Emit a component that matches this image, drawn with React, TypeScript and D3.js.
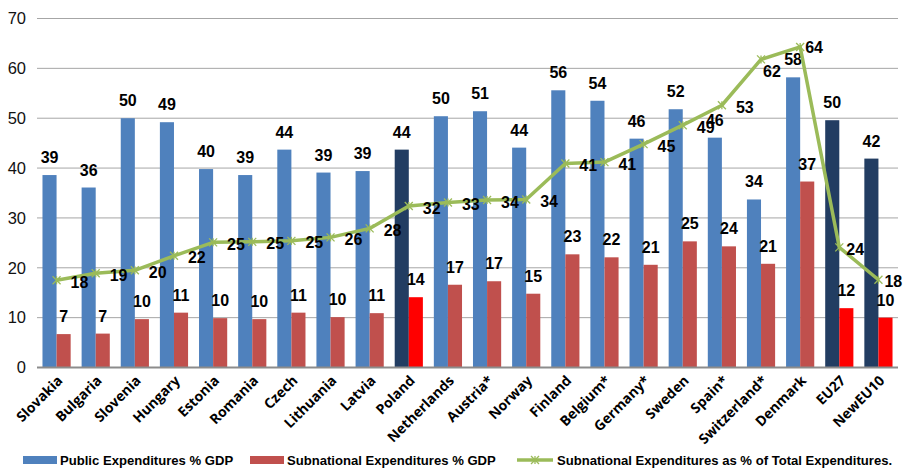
import * as d3 from 'd3';

const categories = ['Slovakia', 'Bulgaria', 'Slovenia', 'Hungary', 'Estonia', 'Romania', 'Czech', 'Lithuania', 'Latvia', 'Poland',
  'Netherlands', 'Austria*', 'Norway', 'Finland', 'Belgium*', 'Germany*', 'Sweden', 'Spain*', 'Switzerland*', 'Denmark', 'EU27', 'NewEU10'];

// Public Expenditures % GDP
const publicExp = [38.6, 36.1, 50.0, 49.2, 39.8, 38.6, 43.7, 39.1, 39.4, 43.7,
  50.4, 51.4, 44.1, 55.6, 53.5, 45.9, 51.8, 46.1, 33.7, 58.2, 49.6, 41.9];

// Subnational Expenditures % GDP
const subExp = [6.7, 6.8, 9.7, 11.0, 9.9, 9.7, 11.0, 10.1, 10.9, 14.1,
  16.6, 17.3, 14.8, 22.7, 22.1, 20.6, 25.3, 24.3, 20.8, 37.3, 11.9, 10.0];

// Subnational Expenditures as % of Total Expenditures
const subShare = [17.5, 18.9, 19.5, 22.4, 25.1, 25.2, 25.4, 26.1, 27.9, 32.4,
  33.1, 33.6, 33.7, 40.9, 41.2, 44.8, 48.6, 52.6, 61.8, 64.3, 24.1, 17.6];

const yTicks = [0, 10, 20, 30, 40, 50, 60, 70];

const highlighted = ['Poland', 'EU27', 'NewEU10'];

const legendItems = ['Public Expenditures % GDP', 'Subnational Expenditures % GDP', 'Subnational Expenditures as % of Total Expenditures.'];

const W = 912;
const H = 469;
const margin = { top: 18.5, right: 14, bottom: 101.5, left: 37 };

const BLUE = '#4F81BD';
const RED = '#C0504D';
const NAVY = '#223D62';
const BRIGHT_RED = '#FF0000';
const GREEN = '#9BBB59';

// manual nudges of a few line labels (as in the original)
const lineLabelNudge: Record<string, [number, number]> = {
  'Switzerland*': [-12, 10],
  'Denmark': [-9, -2],
  'EU27': [-7, 0],
  'NewEU10': [-8, 0],
};

function Star({ x, y, color }: { x: number, y: number, color: string }) {
  const s = 4;
  return (
    <g stroke={color} strokeWidth={1.3}>
      <line x1={x - s} y1={y - s} x2={x + s} y2={y + s} />
      <line x1={x - s} y1={y + s} x2={x + s} y2={y - s} />
      <line x1={x} y1={y - s} x2={x} y2={y + s} />
    </g>
  );
}

export default function App() {
  const x = d3.scaleBand<string>()
    .domain(categories)
    .range([margin.left, W - margin.right])
    .paddingInner(0.28)
    .paddingOuter(0.14);

  const sub = d3.scaleBand<string>()
    .domain(['pub', 'sub'])
    .range([0, x.bandwidth()]);

  const y = d3.scaleLinear()
    .domain([0, 70])
    .range([H - margin.bottom, margin.top]);

  const cx = (c: string) => (x(c) ?? 0) + x.bandwidth() / 2;

  const line = d3.line<number>()
    .x((_, i) => cx(categories[i]))
    .y(d => y(d));

  const labelFont = 'Liberation Sans, Arial, sans-serif';

  return (
    <svg width={W} height={H} style={{ position: 'absolute', left: 0, top: 0, background: '#fff' }}
      fontFamily={labelFont}>
      {/* gridlines */}
      {yTicks.map(t => (
        <g key={t}>
          {t > 0 && <line x1={margin.left} x2={W - margin.right} y1={y(t)} y2={y(t)} stroke="#A6A6A6" strokeWidth={1} />}
          <text x={26} y={y(t)} dy="0.35em" textAnchor="end" fontSize={16.5} fill="#111">{t}</text>
        </g>
      ))}

      {/* bars */}
      {categories.map((c, i) => {
        const hl = highlighted.includes(c);
        const x0 = x(c) ?? 0;
        const pubX = x0 + (sub('pub') ?? 0);
        const subX = x0 + (sub('sub') ?? 0);
        return (
          <g key={c}>
            <rect x={pubX} y={y(publicExp[i])} width={sub.bandwidth()} height={y(0) - y(publicExp[i])} fill={hl ? NAVY : BLUE} />
            <rect x={subX} y={y(subExp[i])} width={sub.bandwidth()} height={y(0) - y(subExp[i])} fill={hl ? BRIGHT_RED : RED} />
          </g>
        );
      })}

      {/* baseline */}
      <line x1={margin.left} x2={W - margin.right} y1={y(0)} y2={y(0)} stroke="#8C8C8C" strokeWidth={2} />

      {/* bar labels */}
      {categories.map((c, i) => {
        const x0 = x(c) ?? 0;
        const bw = sub.bandwidth();
        return (
          <g key={c} fontWeight="bold" fontSize={16} textAnchor="middle" fill="#000">
            <text x={x0 + (sub('pub') ?? 0) + bw / 2} y={y(publicExp[i]) - 12}>{Math.round(publicExp[i])}</text>
            <text x={x0 + (sub('sub') ?? 0) + bw / 2} y={y(subExp[i]) - 12}>{Math.round(subExp[i])}</text>
          </g>
        );
      })}

      {/* share line */}
      <path d={line(subShare) ?? ''} fill="none" stroke={GREEN} strokeWidth={3.5} strokeLinejoin="round" />
      {subShare.map((v, i) => (
        <Star key={i} x={cx(categories[i])} y={y(v)} color={GREEN} />
      ))}
      {subShare.map((v, i) => {
        const n = lineLabelNudge[categories[i]] ?? [0, 0];
        return (
          <text key={i} x={cx(categories[i]) + 14 + n[0]} y={y(v) + 2 + n[1]} dy="0.35em"
            fontWeight="bold" fontSize={16} fill="#000">{Math.round(v)}</text>
        );
      })}

      {/* x labels */}
      {categories.map(c => (
        <text key={c} transform={`translate(${cx(c) + 7},${y(0) + 14}) rotate(-45)`} textAnchor="end"
          fontFamily="'Open Sans', Lato, sans-serif" fontWeight="bold" fontSize={14} fill="#000">{c}</text>
      ))}

      {/* legend */}
      <g fontWeight="bold" fontSize={13.1} fill="#000">
        <rect x={23} y={456} width={34} height={8} fill={BLUE} />
        <text x={60} y={460} dy="0.35em">{legendItems[0]}</text>
        <rect x={250} y={456} width={34} height={8} fill={RED} />
        <text x={287} y={460} dy="0.35em">{legendItems[1]}</text>
        <line x1={517} x2={553} y1={460} y2={460} stroke={GREEN} strokeWidth={3.5} />
        <Star x={535} y={460} color={GREEN} />
        <text x={557} y={460} dy="0.35em">{legendItems[2]}</text>
      </g>
    </svg>
  );
}
